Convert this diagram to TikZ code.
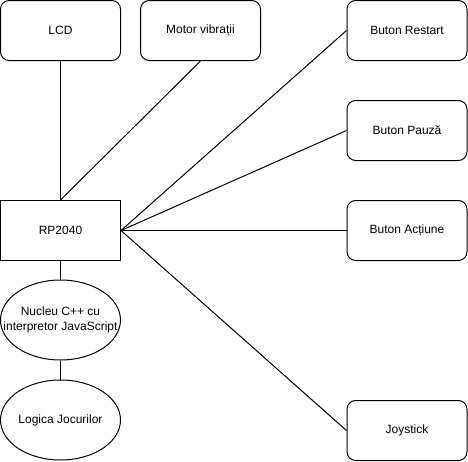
\documentclass[tikz,border=0pt]{standalone}
\usepackage{fontspec}
\setmainfont{Liberation Sans}
\usetikzlibrary{shapes.geometric}
\begin{document}
\begin{tikzpicture}[x=0.75pt,y=-0.75pt,
  every node/.style={font=\fontsize{9}{11}\selectfont, align=center, inner sep=0pt},
  rbox/.style={draw, line width=0.75pt, rounded corners=6.5pt, minimum width=90pt, minimum height=45pt},
  sbox/.style={draw, line width=0.75pt, minimum width=90pt, minimum height=45pt},
  ell/.style={draw, line width=0.75pt, ellipse, minimum width=90pt, minimum height=60pt},
  conn/.style={line width=0.75pt}]
\useasboundingbox (0,0) rectangle (468,461);
\node[rbox] (lcd) at (60.5,30.5) {LCD};
\node[rbox] (motor) at (200.5,30.5) {Motor vibrații};
\node[rbox] (restart) at (407,30.5) {Buton Restart};
\node[rbox] (pauza) at (407,130.5) {Buton Pauză};
\node[rbox] (actiune) at (407,230.5) {Buton Acțiune};
\node[rbox] (joy) at (407,430.5) {Joystick};
\node[sbox] (rp) at (60.5,230.5) {RP2040};
\node[ell] (nucleu) at (60.5,320) {};
\node (nucleutext) at (nucleu.center) {Nucleu C++ cu\\interpretor JavaScript};
\node[ell] (logica) at (60.5,420) {};
\node (logicatext) at (logica.center) {Logica Jocurilor};
\draw[conn] (lcd.south) -- (rp.north);
\draw[conn] (motor.south) -- (rp.north);
\draw[conn] (rp.east) -- (restart.west);
\draw[conn] (rp.east) -- (pauza.west);
\draw[conn] (rp.east) -- (actiune.west);
\draw[conn] (rp.east) -- (joy.west);
\draw[conn] (rp.south) -- (nucleu.north);
\draw[conn] (nucleu.south) -- (logica.north);
\end{tikzpicture}
\end{document}
